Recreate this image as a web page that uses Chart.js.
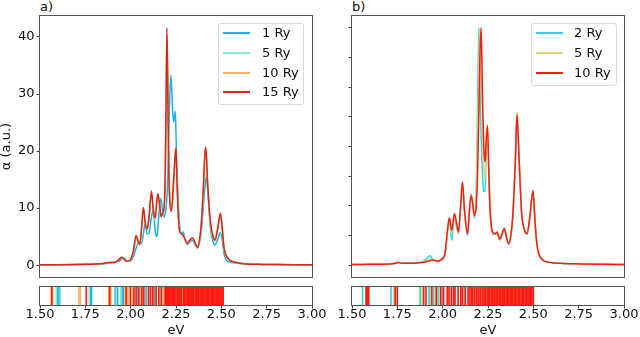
<!DOCTYPE html>
<html>
<head>
<meta charset="utf-8">
<script src="https://cdn.jsdelivr.net/npm/chart.js@4.4.1/dist/chart.umd.min.js"></script>
<style>
  body { margin: 0; background: #fff; width: 640px; height: 337px; overflow: hidden; position: relative; font-family: "DejaVu Sans", sans-serif; color: #111; }
  canvas { position: absolute; }
  .lbl { position: absolute; font-size: 13px; line-height: 15px; white-space: nowrap; }
  .legend { position: absolute; border: 1px solid #d9d9d9; border-radius: 3px; background: rgba(255,255,255,0.8); box-sizing: border-box; }
  .legline { position: absolute; width: 27px; height: 2px; }
</style>
</head>
<body>
<div class="lbl" style="left:40px; top:-1px;">a)</div>
<div class="lbl" style="left:352px; top:-1px;">b)</div>
<canvas id="mainA" width="320" height="278" style="left:0; top:0;"></canvas>
<canvas id="mainB" width="320" height="278" style="left:320px; top:0;"></canvas>
<canvas id="stripA" width="330" height="57" style="left:0; top:280px;"></canvas>
<canvas id="stripB" width="310" height="57" style="left:330px; top:280px;"></canvas>
<script>
// energy grid (eV) and absorption (a.u.) for panel a
const energyA = [1.50, 1.60, 1.70, 1.75, 1.80, 1.85, 1.885, 1.90, 1.93, 1.95, 1.96, 1.975, 1.99, 2.00, 2.015,
  2.03, 2.04, 2.05, 2.06, 2.07, 2.08, 2.09, 2.10, 2.115, 2.125, 2.135, 2.145, 2.15, 2.16, 2.167, 2.175, 2.185,
  2.19, 2.195, 2.20, 2.205, 2.21, 2.215, 2.222, 2.23, 2.237, 2.246, 2.25, 2.255, 2.263, 2.27, 2.28, 2.29, 2.30,
  2.312, 2.325, 2.34, 2.355, 2.368, 2.38, 2.39, 2.40, 2.412, 2.417, 2.425, 2.44, 2.455, 2.465, 2.48, 2.495,
  2.505, 2.515, 2.53, 2.55, 2.60, 2.70, 2.80, 2.90, 3.00];
const ry1A = [0.05, 0.07, 0.1, 0.13, 0.18, 0.25, 0.35, 0.4, 0.6, 1.0, 1.35, 0.9, 0.7, 0.8, 1.5,
  3.0, 3.8, 4.0, 3.8, 5.5, 7.3, 5.5, 5.6, 8.5, 9.7, 6.0, 5.0, 6.5, 10.5, 11.7, 9.5, 8.5,
  9.0, 10, 12, 16, 22, 29, 33.3, 28, 25.1, 27.0, 23, 17, 11, 7, 5.6, 5.8, 4.5,
  3.6, 4.0, 4.3, 3.6, 3.0, 4.0, 6, 10, 14.5, 15.5, 13, 6.5, 4.0, 3.5, 4.5, 5.7,
  4.5, 2.0, 0.8, 0.5, 0.3, 0.15, 0.1, 0.07, 0.05];
const ry5A = [0.05, 0.08, 0.11, 0.14, 0.19, 0.28, 0.42, 0.43, 0.75, 1.3, 1.3, 0.75, 0.72, 0.95, 2.1,
  4.6, 4.2, 3.7, 5.8, 9.2, 7.6, 6.2, 7.4, 12.2, 9.8, 7.8, 10.5, 11.8, 10.8, 9.0, 9.0, 10,
  12.5, 22, 38, 33, 20, 13, 10.5, 11.5, 14.5, 19.5, 19.8, 15.5, 9, 6.1, 5.5, 5.3, 4.5,
  3.7, 4.2, 4.6, 3.9, 3.1, 4.3, 7.0, 12.2, 19.8, 19.2, 14, 7.3, 4.8, 4.2, 6.1, 8.5,
  6.2, 2.9, 1.4, 0.75, 0.33, 0.15, 0.1, 0.07, 0.05];
const ry10A = [0.05, 0.08, 0.12, 0.15, 0.2, 0.3, 0.45, 0.45, 0.8, 1.35, 1.25, 0.7, 0.75, 1.0, 2.3,
  5.0, 4.3, 3.6, 6.2, 9.8, 7.5, 6.3, 7.8, 12.7, 9.6, 8.3, 11.2, 12.2, 10.5, 8.6, 9.0, 10.3,
  14, 26, 40.5, 31, 18, 12, 9.8, 11, 14.5, 19.3, 20.3, 15.2, 8.7, 6.0, 5.5, 5.2, 4.5,
  3.8, 4.3, 4.7, 4.0, 3.1, 4.4, 7.3, 12.7, 20.4, 19.4, 14, 7.4, 4.9, 4.3, 6.4, 8.9,
  6.4, 3.0, 1.5, 0.8, 0.35, 0.15, 0.1, 0.07, 0.05];
const ry15A = [0.05, 0.08, 0.12, 0.15, 0.2, 0.3, 0.45, 0.45, 0.8, 1.4, 1.2, 0.7, 0.75, 1.0, 2.5,
  5.2, 4.3, 3.6, 6.5, 10.1, 7.5, 6.3, 8.0, 13.0, 9.5, 8.3, 11.5, 12.5, 10.5, 8.5, 9.0, 10.5,
  15, 28, 41.6, 30, 17, 11.5, 9.4, 11, 15, 19.5, 20.6, 15, 8.5, 6.0, 5.5, 5.2, 4.5,
  3.8, 4.3, 4.8, 4.0, 3.1, 4.5, 7.5, 13, 20.7, 19.5, 14, 7.5, 5.0, 4.4, 6.5, 9.1,
  6.5, 3.0, 1.5, 0.8, 0.35, 0.15, 0.1, 0.07, 0.05];

// energy grid and absorption for panel b
const energyB = [1.50, 1.60, 1.70, 1.735, 1.754, 1.775, 1.82, 1.87, 1.90, 1.915, 1.93, 1.94, 1.955, 1.968,
  1.99, 2.013, 2.025, 2.037, 2.05, 2.065, 2.077, 2.087, 2.10, 2.109, 2.12, 2.137, 2.147, 2.157, 2.167,
  2.175, 2.185, 2.193, 2.20, 2.206, 2.212, 2.22, 2.227, 2.234, 2.24, 2.247, 2.255, 2.262, 2.27, 2.28,
  2.29, 2.30, 2.315, 2.33, 2.34, 2.35, 2.363, 2.38, 2.39, 2.40, 2.41, 2.42, 2.435, 2.45, 2.465, 2.48,
  2.498, 2.51, 2.52, 2.529, 2.55, 2.575, 2.65, 2.76, 2.88, 3.00];
const ry2B = [0.1, 0.15, 0.2, 0.28, 0.45, 0.3, 0.35, 0.5, 0.7, 1.2, 1.6, 1.2, 0.8, 0.7,
  0.85, 1.8, 5.0, 7.5, 4.2, 8.0, 6.5, 5.3, 10, 13.2, 9.0, 5.0, 8.8, 12.0, 10,
  8.0, 12, 28, 40.0, 30, 22, 15, 12.5, 12.4, 19, 23, 15, 8.5, 6.0, 5.2,
  5.2, 5.4, 4.2, 5.3, 6.0, 4.8, 3.5, 5.8, 9.8, 16.8, 25.2, 19, 9, 6, 5.2, 7.8,
  12.4, 7.0, 3.5, 2.0, 0.9, 0.55, 0.3, 0.2, 0.14, 0.1];
const ry5B = [0.1, 0.15, 0.2, 0.28, 0.45, 0.3, 0.32, 0.45, 0.6, 0.8, 1.0, 1.0, 0.8, 0.68,
  0.9, 1.9, 5.3, 7.8, 5.2, 8.5, 6.8, 5.4, 10.3, 13.8, 9.3, 5.2, 8.9, 11.9, 10,
  8.2, 11, 22, 34, 40, 34, 22, 16, 14.5, 20, 23.4, 15, 8.8, 6.1, 5.3,
  5.3, 5.5, 4.3, 5.4, 6.1, 4.9, 3.6, 5.9, 10, 17, 25.9, 19, 9, 6, 5.3, 7.9,
  12.5, 7.0, 3.5, 2.0, 0.9, 0.55, 0.3, 0.2, 0.14, 0.1];
const ry10B = [0.1, 0.15, 0.2, 0.28, 0.45, 0.3, 0.3, 0.4, 0.5, 0.6, 0.75, 0.85, 0.8, 0.67,
  0.9, 2.0, 5.5, 8.0, 5.9, 8.7, 7.0, 5.6, 10.5, 14.0, 9.5, 5.3, 9.0, 11.8, 10.0,
  8.4, 10.0, 16, 26, 36, 40.0, 28, 20, 17.4, 21, 23.6, 15, 9, 6.2, 5.4,
  5.3, 5.6, 4.4, 5.5, 6.2, 5.0, 3.6, 6.0, 10, 17, 25.4, 19, 9, 6.0, 5.3, 8.0,
  12.6, 7.0, 3.5, 2.0, 0.9, 0.55, 0.3, 0.2, 0.14, 0.1];

// excitation energies (eV) shown in the strips
const linesA1 = [1.598, 1.606, 1.778, 1.784, 1.915, 1.928, 1.952, 1.96, 2.04, 2.085, 2.13, 2.165, 2.215, 2.245, 2.275, 2.33];
const linesA5 = [1.59, 1.612, 1.772, 1.921, 1.945, 2.0, 2.075, 2.12, 2.16];
const linesA10 = [1.562, 1.568, 1.715, 1.722, 1.878, 1.89, 1.97, 1.985, 2.01, 2.055, 2.1, 2.14, 2.18, 2.22, 2.26, 2.3, 2.36, 2.4];
const linesA15 = [1.565, 1.755, 1.884, 1.975, 1.998, 2.018, 2.03, 2.045, 2.062, 2.072, 2.098, 2.11, 2.122, 2.14,
  2.155, 2.17, 2.19, 2.196, 2.202, 2.208, 2.216, 2.224, 2.23, 2.236, 2.242, 2.25, 2.258, 2.266, 2.272, 2.28,
  2.29, 2.297, 2.305, 2.312, 2.318, 2.326, 2.334, 2.34, 2.347, 2.355, 2.362, 2.37, 2.376, 2.383, 2.39, 2.397,
  2.404, 2.41, 2.417, 2.424, 2.43, 2.437, 2.444, 2.45, 2.458, 2.465, 2.472, 2.478, 2.485, 2.492, 2.498, 2.505, 2.51];
const linesB2 = [1.558, 1.715, 1.876, 1.925, 1.95, 1.975, 2.0, 2.06, 2.12];
const linesB5 = [1.575, 1.73, 1.887, 1.935, 1.96, 1.985, 2.03, 2.1];
const linesB10 = [1.578, 1.586, 1.592, 1.738, 1.75, 1.895, 1.908, 1.94, 1.965, 1.99, 2.005, 2.025, 2.035, 2.048,
  2.06, 2.068, 2.085, 2.1, 2.11, 2.125, 2.14, 2.15, 2.158, 2.165, 2.175, 2.185, 2.195, 2.2, 2.21, 2.22, 2.228,
  2.235, 2.245, 2.252, 2.26, 2.268, 2.275, 2.283, 2.29, 2.298, 2.305, 2.313, 2.32, 2.328, 2.335, 2.342, 2.35,
  2.357, 2.365, 2.372, 2.38, 2.387, 2.395, 2.402, 2.41, 2.417, 2.424, 2.432, 2.44, 2.447, 2.455, 2.462, 2.47,
  2.477, 2.485, 2.492, 2.5];

const xTicks = [1.5, 1.75, 2.0, 2.25, 2.5, 2.75, 3.0];
const yTicksA = [0, 10, 20, 30, 40];
const yTicksB = [0, 5, 10, 15, 20, 25, 30, 35, 40];

Chart.defaults.font.family = '"DejaVu Sans", sans-serif';
Chart.defaults.font.size = 13;
Chart.defaults.color = '#111';

// box around each axes, like matplotlib spines
const frame = {
  id: 'frame',
  afterDatasetsDraw(chart) {
    const a = chart.chartArea;
    const c = chart.ctx;
    c.save();
    c.strokeStyle = '#555';
    c.lineWidth = 1;
    c.strokeRect(Math.round(a.left) - 0.5, Math.round(a.top) - 0.5,
      Math.round(a.right - a.left) + 1, Math.round(a.bottom - a.top) + 1);
    c.restore();
  }
};

function mainChart(id, energy, series, yMin, yMax, yTicks, opts) {
  return new Chart(document.getElementById(id), {
    type: 'line',
    data: {
      datasets: series.map((s, i) => ({
        label: s.label,
        data: energy.map((e, j) => ({ x: e, y: s.values[j] })),
        borderColor: s.color,
        borderWidth: 1.5,
        pointRadius: 0,
        cubicInterpolationMode: 'monotone',
        order: series.length - i
      }))
    },
    options: {
      responsive: false,
      animation: false,
      layout: { padding: { left: 0, top: 16, right: opts.padRight, bottom: 1 } },
      plugins: { legend: { display: false }, tooltip: { enabled: false } },
      scales: {
        x: { type: 'linear', display: false, min: 1.5, max: 3.0 },
        y: {
          min: yMin,
          max: yMax,
          afterBuildTicks: (s) => { s.ticks = yTicks.map((v) => ({ value: v })); },
          afterFit: (s) => { s.width = opts.axisWidth; s.paddingTop = 0; s.paddingBottom = 0; },
          grid: { drawOnChartArea: false, tickLength: 3.5, color: '#444' },
          border: { display: false },
          ticks: { padding: 2, color: '#111', callback: (v) => (opts.labels ? String(v) : '') },
          title: {
            display: !!opts.title,
            text: opts.title || '',
            color: '#111',
            padding: { top: 0, bottom: 0 },
            font: { size: 13, lineHeight: 1 }
          }
        }
      }
    },
    plugins: [frame]
  });
}

function stripChart(id, groups, padLeft, padRight) {
  return new Chart(document.getElementById(id), {
    type: 'bar',
    data: {
      datasets: groups.map((g, i) => ({
        label: g.label,
        data: g.energies.map((e) => ({ x: e, y: 1 })),
        backgroundColor: g.color,
        barThickness: 1,
        grouped: false,
        order: groups.length - i
      }))
    },
    options: {
      responsive: false,
      animation: false,
      layout: { padding: { left: padLeft, top: 7, right: padRight, bottom: 0 } },
      plugins: { legend: { display: false }, tooltip: { enabled: false } },
      scales: {
        x: {
          type: 'linear',
          min: 1.5,
          max: 3.0,
          offset: false,
          afterBuildTicks: (s) => { s.ticks = xTicks.map((v) => ({ value: v })); },
          afterFit: (s) => { s.height = 32; s.paddingLeft = 0; s.paddingRight = 0; },
          grid: { drawOnChartArea: false, offset: false, tickLength: 3.5, color: '#444' },
          border: { display: false },
          ticks: { padding: 0, autoSkip: false, maxRotation: 0, color: '#111',
            font: { lineHeight: 1 }, callback: (v) => v.toFixed(2) },
          title: { display: true, text: 'eV', color: '#111', padding: { top: 0, bottom: 0 },
            font: { size: 13, lineHeight: 1 } }
        },
        y: { display: false, min: 0, max: 1 }
      }
    },
    plugins: [frame]
  });
}

function htmlLegend(chart, box, lineLeft, textLeft, rowTop, rowStep) {
  const div = document.createElement('div');
  div.className = 'legend';
  Object.assign(div.style, { left: box[0] + 'px', top: box[1] + 'px', width: box[2] + 'px', height: box[3] + 'px' });
  document.body.appendChild(div);
  chart.data.datasets.forEach((ds, i) => {
    const y = Math.round(rowTop + i * rowStep);
    const line = document.createElement('div');
    line.className = 'legline';
    Object.assign(line.style, { left: lineLeft + 'px', top: (y - 1) + 'px', background: ds.borderColor });
    document.body.appendChild(line);
    const txt = document.createElement('div');
    txt.className = 'lbl';
    txt.textContent = ds.label;
    Object.assign(txt.style, { left: textLeft + 'px', top: (y - 8) + 'px', lineHeight: '16px' });
    document.body.appendChild(txt);
  });
}

const colA = ['#22afe2', '#86f0c8', '#fbb25e', '#d4291f'];
const colB = ['#2cd3e0', '#d8d67c', '#fa1e12'];

const chartA = mainChart('mainA', energyA, [
  { label: '1 Ry', values: ry1A, color: colA[0] },
  { label: '5 Ry', values: ry5A, color: colA[1] },
  { label: '10 Ry', values: ry10A, color: colA[2] },
  { label: '15 Ry', values: ry15A, color: colA[3] }
], -2.08, 43.68, yTicksA, { axisWidth: 40, padRight: 8, labels: true, title: 'α (a.u.)' });

const chartB = mainChart('mainB', energyB, [
  { label: '2 Ry', values: ry2B, color: colB[0] },
  { label: '5 Ry', values: ry5B, color: colB[1] },
  { label: '10 Ry', values: ry10B, color: colB[2] }
], -2, 42, yTicksB, { axisWidth: 32, padRight: 16, labels: false });

stripChart('stripA', [
  { label: '1 Ry', energies: linesA1, color: colA[0] },
  { label: '5 Ry', energies: linesA5, color: colA[1] },
  { label: '10 Ry', energies: linesA10, color: colA[2] },
  { label: '15 Ry', energies: linesA15, color: '#ff1a10' }
], 40, 18);

stripChart('stripB', [
  { label: '2 Ry', energies: linesB2, color: colB[0] },
  { label: '5 Ry', energies: linesB5, color: colB[1] },
  { label: '10 Ry', energies: linesB10, color: '#ff1a10' }
], 22, 16);

htmlLegend(chartA, [218, 23, 86, 82], 223, 262, 33.3, 19.7);
htmlLegend(chartB, [531, 23, 86, 63], 536, 574, 33.3, 19.7);
</script>
</body>
</html>
